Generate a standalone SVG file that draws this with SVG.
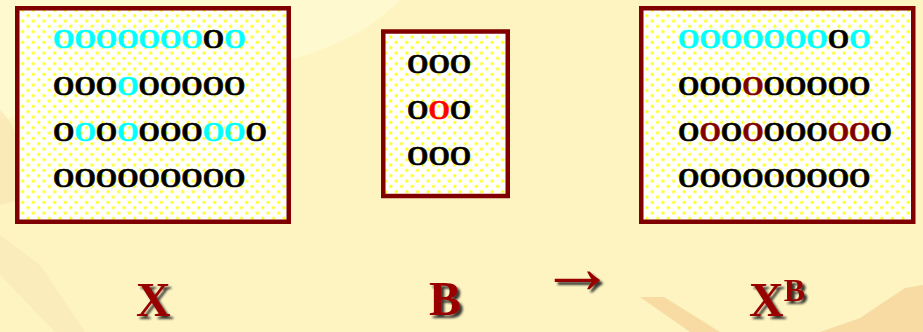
<svg xmlns="http://www.w3.org/2000/svg" width="923" height="332" viewBox="0 0 923 332">
<defs>
<style>
.bx{fill:url(#dots);stroke:#800000;stroke-width:4.5}
.d{font-family:"Liberation Serif","Times New Roman",serif;font-weight:bold;font-size:27.5px;fill:#000;stroke:#000;stroke-width:0.5}
.c{fill:#00FFFF;stroke:#00FFFF}.m{fill:#800000;stroke:#800000}.r{fill:#FF0000;stroke:#FF0000}
.lb{font-family:"Liberation Serif","Times New Roman",serif;font-weight:bold;fill:#990000;filter:url(#sh)}
</style>
<radialGradient id="dg"><stop offset="0" stop-color="#FFFF00"/><stop offset="0.55" stop-color="#FFFF00" stop-opacity="0.75"/><stop offset="1" stop-color="#FFFF00" stop-opacity="0"/></radialGradient>
<pattern id="dots" width="10.67" height="10.67" patternUnits="userSpaceOnUse" patternTransform="translate(4,2.3)">
<rect width="10.67" height="10.67" fill="#fff"/>
<circle cx="2.7" cy="2.7" r="2.2" fill="url(#dg)"/>
<circle cx="8" cy="8" r="2.2" fill="url(#dg)"/>
</pattern>
<filter id="sh" x="-30%" y="-30%" width="170%" height="170%">
<feGaussianBlur in="SourceAlpha" stdDeviation="1.2"/>
<feOffset dx="2.5" dy="2.5" result="b"/>
<feFlood flood-color="#1a1a1a" flood-opacity="0.85"/>
<feComposite in2="b" operator="in"/>
<feMerge><feMergeNode/><feMergeNode in="SourceGraphic"/></feMerge>
</filter>
</defs>
<g id="background">
<rect width="923" height="332" fill="#FDF4C2"/>
<path d="M0 0 H400 C360 40 320 50 290 60 L0 120 Z" fill="#FFFAD2" opacity="0.8"/>
<path d="M0 110 C20 130 30 160 20 200 L0 205 Z" fill="#F9E2B0" opacity="0.6"/>
<path d="M0 235 L40 265 L85 332 L55 332 L0 275 Z" fill="#FAE6B4" opacity="0.5"/>
<path d="M640 297 L664 297 L720 332 L690 332 Z" fill="#F8DBA2"/>
<path d="M820 332 L860 318 L905 288 L923 285 L923 332 Z" fill="#F8DBA2"/>
</g>
<g id="node-X">
<rect class="bx" x="17.25" y="8.25" width="271.5" height="213.5"/>
<text class="d" x="53" y="48"><tspan class="c">OOOOOOO</tspan>O<tspan class="c">O</tspan></text>
<text class="d" x="53" y="95">OOO<tspan class="c">O</tspan>OOOOO</text>
<text class="d" x="53" y="141">O<tspan class="c">O</tspan>O<tspan class="c">O</tspan>OOO<tspan class="c">OO</tspan>O</text>
<text class="d" x="53" y="187">OOOOOOOOO</text>
</g>
<g id="node-B">
<rect class="bx" x="383.25" y="31.5" width="124.5" height="164.5"/>
<text class="d" x="407" y="73">OOO</text>
<text class="d" x="407" y="119">O<tspan class="r">O</tspan>O</text>
<text class="d" x="407" y="165">OOO</text>
</g>
<g id="node-XB">
<rect class="bx" x="641.25" y="8.25" width="272" height="213.5"/>
<text class="d" x="678" y="48"><tspan class="c">OOOOOOO</tspan>O<tspan class="c">O</tspan></text>
<text class="d" x="678" y="95">OOO<tspan class="m">O</tspan>OOOOO</text>
<text class="d" x="678" y="141">O<tspan class="m">O</tspan>O<tspan class="m">O</tspan>OOO<tspan class="m">OO</tspan>O</text>
<text class="d" x="678" y="187">OOOOOOOOO</text>
</g>
<g id="labels">
<text class="lb" x="136" y="316" font-size="48">X</text>
<text class="lb" x="429" y="315" font-size="48">B</text>
<text class="lb" x="539" y="293" font-size="76">→</text>
<text class="lb" x="749" y="316" font-size="48">X<tspan font-size="32" dy="-15">B</tspan></text>
</g>
</svg>
